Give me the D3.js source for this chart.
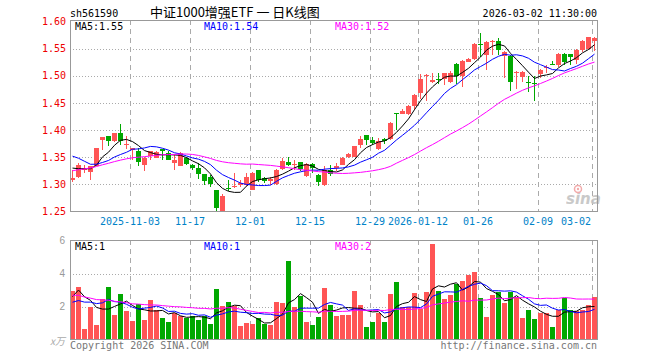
<!DOCTYPE html>
<html>
<head>
<meta charset="utf-8">
<script src="https://cdn.jsdelivr.net/npm/d3@7"></script>
<style>
  body { margin: 0; background: #fff; }
  svg { display: block; }
  text { font-family: "DejaVu Sans Mono", "Liberation Mono", monospace; font-size: 10px; }
</style>
</head>
<body>
<svg id="chart" width="660" height="360"></svg>
<script>
// trading days shown on the chart
const dates = [
  "2025-10-20","2025-10-21","2025-10-22","2025-10-23","2025-10-24","2025-10-27","2025-10-28","2025-10-29","2025-10-30","2025-10-31",
  "2025-11-03","2025-11-04","2025-11-05","2025-11-06","2025-11-07","2025-11-10","2025-11-11","2025-11-12","2025-11-13","2025-11-14",
  "2025-11-17","2025-11-18","2025-11-19","2025-11-20","2025-11-21","2025-11-24","2025-11-25","2025-11-26","2025-11-27","2025-11-28",
  "2025-12-01","2025-12-02","2025-12-03","2025-12-04","2025-12-05","2025-12-08","2025-12-09","2025-12-10","2025-12-11","2025-12-12",
  "2025-12-15","2025-12-16","2025-12-17","2025-12-18","2025-12-19","2025-12-22","2025-12-23","2025-12-24","2025-12-25","2025-12-26",
  "2025-12-29","2025-12-30","2025-12-31","2026-01-05","2026-01-06","2026-01-07","2026-01-08","2026-01-09",
  "2026-01-12","2026-01-13","2026-01-14","2026-01-15","2026-01-16","2026-01-19","2026-01-20","2026-01-21","2026-01-22","2026-01-23",
  "2026-01-26","2026-01-27","2026-01-28","2026-01-29","2026-01-30","2026-02-02","2026-02-03","2026-02-04","2026-02-05","2026-02-06",
  "2026-02-09","2026-02-10","2026-02-11","2026-02-12","2026-02-13","2026-02-24","2026-02-25","2026-02-26","2026-02-27","2026-03-02"
];

const opens = [
  1.308,1.314,1.326,1.322,1.333,1.381,1.389,1.379,1.394,1.373,
  1.363,1.361,1.336,1.353,1.349,1.365,1.357,1.340,1.334,1.348,
  1.336,1.330,1.319,1.314,1.290,1.250,1.293,1.295,1.299,1.299,
  1.290,1.327,1.311,1.306,1.301,1.328,1.341,1.336,1.341,1.316,
  1.338,1.318,1.299,1.327,1.330,1.336,1.351,1.351,1.373,1.391,
  1.381,1.365,1.383,1.383,1.431,1.430,1.430,1.445,1.468,1.500,
  1.488,1.494,1.494,1.488,1.521,1.499,1.526,1.531,1.558,1.539,
  1.564,1.564,1.537,1.537,1.505,1.497,1.489,1.486,1.503,1.515,
  1.521,1.519,1.540,1.540,1.529,1.548,1.549,1.564
];
const highs = [
  1.327,1.339,1.336,1.333,1.367,1.387,1.389,1.394,1.411,1.389,
  1.367,1.367,1.351,1.362,1.361,1.366,1.362,1.354,1.359,1.350,
  1.338,1.339,1.320,1.318,1.290,1.283,1.308,1.321,1.308,1.321,
  1.322,1.327,1.314,1.314,1.328,1.348,1.350,1.345,1.342,1.339,
  1.339,1.320,1.333,1.336,1.339,1.351,1.357,1.371,1.389,1.391,
  1.388,1.386,1.385,1.414,1.431,1.439,1.446,1.466,1.503,1.503,
  1.505,1.505,1.506,1.508,1.523,1.529,1.533,1.560,1.578,1.564,
  1.566,1.569,1.545,1.539,1.508,1.508,1.499,1.500,1.512,1.520,
  1.528,1.542,1.542,1.541,1.549,1.566,1.572,1.572
];
const lows = [
  1.305,1.311,1.321,1.308,1.333,1.364,1.370,1.378,1.373,1.365,
  1.344,1.334,1.324,1.344,1.348,1.345,1.345,1.327,1.333,1.336,
  1.327,1.310,1.299,1.296,1.251,1.248,1.287,1.293,1.296,1.297,
  1.289,1.305,1.302,1.299,1.299,1.327,1.333,1.327,1.324,1.314,
  1.321,1.297,1.297,1.316,1.324,1.335,1.348,1.350,1.367,1.373,
  1.373,1.364,1.375,1.382,1.400,1.429,1.427,1.437,1.458,1.453,
  1.486,1.485,1.483,1.486,1.485,1.480,1.525,1.529,1.535,1.511,
  1.539,1.539,1.496,1.472,1.476,1.489,1.471,1.454,1.496,1.505,
  1.519,1.517,1.520,1.520,1.521,1.543,1.548,1.545
];
const closes = [
  1.311,1.336,1.330,1.333,1.367,1.387,1.379,1.394,1.379,1.375,
  1.367,1.342,1.348,1.361,1.359,1.361,1.345,1.345,1.357,1.338,
  1.331,1.319,1.307,1.301,1.257,1.279,1.292,1.297,1.302,1.314,
  1.321,1.308,1.307,1.309,1.327,1.343,1.336,1.338,1.328,1.337,
  1.330,1.305,1.327,1.319,1.333,1.349,1.356,1.370,1.383,1.381,
  1.376,1.380,1.380,1.413,1.430,1.435,1.445,1.465,1.494,1.501,
  1.493,1.493,1.506,1.505,1.499,1.528,1.531,1.558,1.556,1.563,
  1.565,1.548,1.543,1.488,1.507,1.507,1.488,1.485,1.511,1.517,
  1.520,1.540,1.525,1.534,1.548,1.564,1.571,1.569
];
// volume, x万
const volumes = [
  2.96,3.20,0.66,2.00,0.90,2.46,3.20,1.46,2.76,1.74,
  1.14,2.16,1.20,2.40,1.76,1.30,1.08,1.60,1.44,1.30,
  1.40,1.20,1.44,0.96,3.06,2.04,2.28,2.06,0.80,1.02,
  0.92,1.30,0.96,0.86,2.30,2.24,4.76,1.94,2.66,1.08,
  0.86,1.38,3.14,2.10,1.44,1.50,1.50,2.94,2.10,0.74,
  1.08,1.60,1.08,2.76,3.48,1.95,2.00,2.82,1.84,2.90,
  5.76,2.94,2.46,2.70,3.34,3.54,3.90,4.08,2.54,1.38,
  2.70,2.90,2.22,2.90,2.58,1.32,1.80,1.26,1.62,1.62,
  0.74,1.80,2.52,1.76,1.74,1.80,2.10,2.60
];
// the days before the first visible candle, only used to seed the averages
const histCloses = [
  1.275,1.282,1.288,1.285,1.292,1.296,1.300,1.298,1.302,1.308,
  1.312,1.318,1.325,1.320,1.330,1.335,1.338,1.332,1.342,1.352,
  1.375,1.386,1.388,1.366,1.355,1.342,1.330,1.333,1.334
];
const histVolumes = [
  3.20,3.80,4.10,3.50,3.00,3.90,3.40,3.60,3.30,3.32,
  2.60,2.20,2.90,1.90,2.40,2.10,2.50,1.80,2.30,1.98,
  2.20,1.60,2.00,1.80,2.00,1.20,2.70,3.10,3.04
];

const priceTicks = [1.25, 1.30, 1.35, 1.40, 1.45, 1.50, 1.55, 1.60];
const volumeTicks = [2, 4, 6];
const tickDates = ["2025-11-03","2025-11-17","2025-12-01","2025-12-15","2025-12-29","2026-01-12","2026-01-26","2026-02-09","2026-03-02"];
const tickLabels = ["2025-11-03","11-17","12-01","12-15","12-29","2026-01-12","01-26","02-09","03-02"];
const maPeriods = [5, 10, 30];
const priceMaLabels = ["1.55", "1.54", "1.52"];
const volumeMaLabels = ["1", "1", "2"];

const RED = "#ff5555", GREEN = "#00a800";
const maColors = ["#000000", "#0000ff", "#ff00ff"];
const maLabelX = [75, 204, 335];

const plotLeft = 70, plotRight = 598, plotTop = 20, plotBottom = 211.5;
const volTop = 240, volBottom = 339.5;

const svg = d3.select("#chart");

const x = d3.scaleBand().domain(dates).range([plotLeft, plotRight]).padding(0);
const bw = x.bandwidth() - 1;
const y = d3.scaleLinear().domain([1.25, 1.60]).range([plotBottom, 21.5]);
const yVol = d3.scaleLinear().domain([0, 6]).range([volBottom, volTop + 0.5]);

const movingAvg = (values, hist, n) => {
  const all = hist.concat(values);
  return values.map((_, i) => d3.mean(all.slice(hist.length + i - n + 1, hist.length + i + 1)));
};

const defs = svg.append("defs");
defs.append("clipPath").attr("id", "clipMain")
  .append("rect").attr("x", plotLeft).attr("y", plotTop).attr("width", 527.5).attr("height", plotBottom - plotTop);
defs.append("clipPath").attr("id", "clipVol")
  .append("rect").attr("x", plotLeft).attr("y", volTop).attr("width", 527.5).attr("height", volBottom - volTop);

// header
svg.append("text").attr("x", 70).attr("y", 17).text("sh561590");
svg.append("text").attr("x", 150).attr("y", 17)
  .style("font-family", "'Noto Sans CJK SC', sans-serif").style("font-size", "13px")
  .text("中证1000增强ETF 一 日K线图");
svg.append("text").attr("x", 597).attr("y", 17).attr("text-anchor", "end").text("2026-03-02 11:30:00");

// grids
const grid = svg.append("g").attr("shape-rendering", "crispEdges");
grid.append("g").selectAll("line").data(priceTicks.filter(d => d > 1.25 && d < 1.6)).join("line")
  .attr("x1", plotLeft).attr("x2", 597)
  .attr("y1", d => Math.round(y(d)) + 0.5).attr("y2", d => Math.round(y(d)) + 0.5)
  .attr("stroke", "#aaa").attr("stroke-dasharray", "1,2");
grid.append("g").selectAll("line").data(volumeTicks.filter(d => d < 6)).join("line")
  .attr("x1", plotLeft).attr("x2", 597)
  .attr("y1", d => Math.round(yVol(d)) + 0.5).attr("y2", d => Math.round(yVol(d)) + 0.5)
  .attr("stroke", "#aaa").attr("stroke-dasharray", "1,2");
[[plotTop, plotBottom], [volTop, volBottom]].forEach(([a, b]) => {
  grid.append("g").selectAll("line").data(tickDates).join("line")
    .attr("x1", d => x(d) + 0.5).attr("x2", d => x(d) + 0.5)
    .attr("y1", a).attr("y2", b)
    .attr("stroke", "#aaa").attr("stroke-dasharray", "5,4");
});

// sina watermark
const logo = svg.append("g").attr("opacity", 0.9);
logo.append("text").attr("x", 566).attr("y", 204)
  .style("font-family", "'DejaVu Sans', sans-serif").style("font-size", "15px")
  .style("font-weight", "bold").style("font-style", "italic").attr("fill", "#c4c4c4").text("sina");
logo.append("circle").attr("cx", 578).attr("cy", 189).attr("r", 3.5)
  .attr("fill", "none").attr("stroke", "#f2a3a3").attr("stroke-width", 1.5);
logo.append("circle").attr("cx", 578).attr("cy", 189).attr("r", 1.2).attr("fill", "#f2a3a3");

// candles
const idx = d3.range(dates.length);
const up = i => closes[i] >= opens[i];
const candles = svg.append("g").attr("clip-path", "url(#clipMain)").attr("shape-rendering", "crispEdges");
const c = candles.selectAll("g").data(idx).join("g").attr("fill", i => up(i) ? RED : GREEN);
c.append("rect")
  .attr("x", i => x(dates[i]) + 2).attr("width", 1)
  .attr("y", i => y(highs[i])).attr("height", i => Math.max(1, y(lows[i]) - y(highs[i])));
c.append("rect")
  .attr("x", i => x(dates[i])).attr("width", bw)
  .attr("y", i => y(Math.max(opens[i], closes[i])))
  .attr("height", i => Math.max(1, Math.abs(y(opens[i]) - y(closes[i]))));

// price moving averages
const lineGen = scale => d3.line().x((d, i) => x(dates[i]) + 2.5).y(d => scale(d));
const maGroup = svg.append("g").attr("clip-path", "url(#clipMain)");
maPeriods.forEach((n, k) => {
  maGroup.append("path").datum(movingAvg(closes, histCloses, n))
    .attr("d", lineGen(y)).attr("fill", "none").attr("stroke", maColors[k]).attr("stroke-width", 1);
});

// volume bars
const vol = svg.append("g").attr("clip-path", "url(#clipVol)").attr("shape-rendering", "crispEdges");
vol.selectAll("rect").data(idx).join("rect")
  .attr("x", i => x(dates[i])).attr("width", bw)
  .attr("y", i => yVol(volumes[i])).attr("height", i => volBottom - yVol(volumes[i]))
  .attr("fill", i => up(i) ? RED : GREEN);
const vmaGroup = svg.append("g").attr("clip-path", "url(#clipVol)");
maPeriods.forEach((n, k) => {
  vmaGroup.append("path").datum(movingAvg(volumes, histVolumes, n))
    .attr("d", lineGen(yVol)).attr("fill", "none").attr("stroke", maColors[k]).attr("stroke-width", 1);
});

// frames
const frames = svg.append("g").attr("fill", "none").attr("stroke", "#999").attr("shape-rendering", "crispEdges");
frames.append("rect").attr("x", 70.5).attr("y", 20.5).attr("width", 527).attr("height", plotBottom - 20.5);
frames.append("rect").attr("x", 70.5).attr("y", volTop + 0.5).attr("width", 527).attr("height", volBottom - volTop - 0.5);

// MA labels
maPeriods.forEach((n, k) => {
  svg.append("text").attr("x", maLabelX[k]).attr("y", 30).attr("fill", maColors[k])
    .text(`MA${n}:${priceMaLabels[k]}`);
  svg.append("text").attr("x", maLabelX[k]).attr("y", 250).attr("fill", maColors[k])
    .text(`MA${n}:${volumeMaLabels[k]}`);
});

// price axis
const yAxis = svg.append("g").attr("transform", `translate(${plotLeft},0)`)
  .call(d3.axisLeft(y).tickValues(priceTicks).tickSize(0).tickPadding(4).tickFormat(d3.format(".2f")));
yAxis.select(".domain").remove();
yAxis.selectAll("text").attr("fill", "#ee0000")
  .style("font-family", "'DejaVu Sans Mono', monospace").style("font-size", "10px");

// volume axis
const vAxis = svg.append("g").attr("transform", `translate(${plotLeft},0)`)
  .call(d3.axisLeft(yVol).tickValues(volumeTicks).tickSize(0).tickPadding(5).tickFormat(d3.format("d")));
vAxis.select(".domain").remove();
vAxis.selectAll("text").attr("fill", "#999")
  .style("font-family", "'Liberation Sans', sans-serif").style("font-size", "10px");
svg.append("text").attr("x", 65).attr("y", 345).attr("text-anchor", "end").attr("fill", "#aaa")
  .style("font-family", "'Noto Sans CJK SC', sans-serif").style("font-size", "10px").style("font-style", "italic")
  .text("x万");

// date axis
const xAxis = svg.append("g").attr("transform", `translate(0,${plotBottom})`)
  .call(d3.axisBottom(x).tickValues(tickDates).tickSize(0).tickFormat((d, i) => tickLabels[i]));
xAxis.select(".domain").remove();
xAxis.selectAll(".tick").attr("transform", d => `translate(${x(d)},0)`);
xAxis.selectAll("text").attr("fill", "#0082c8").attr("y", 13.5).attr("dy", 0)
  .style("font-family", "'DejaVu Sans Mono', monospace").style("font-size", "10px")
  .each(function(d) {
    const w = this.getComputedTextLength();
    const over = x(d) + w / 2 - 591;
    if (over > 0) d3.select(this).attr("x", -over);
  });

// footer
svg.append("text").attr("x", 70).attr("y", 349).attr("fill", "#777").text("Copyright 2026 SINA.COM");
svg.append("text").attr("x", 597).attr("y", 349).attr("text-anchor", "end").attr("fill", "#777")
  .text("http://finance.sina.com.cn");
</script>
</body>
</html>
